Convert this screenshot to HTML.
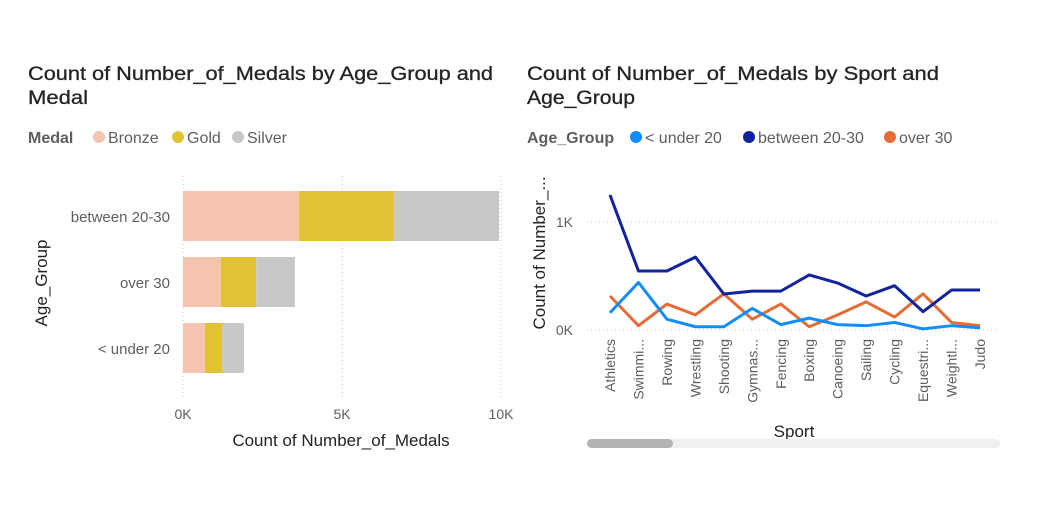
<!DOCTYPE html>
<html><head><meta charset="utf-8"><style>
body{margin:0;background:#fff;width:1053px;height:511px;overflow:hidden;font-family:"Liberation Sans",sans-serif}
</style></head><body>
<svg id="s" width="1053" height="511" font-family="Liberation Sans, sans-serif">
<g fill="#252423" font-size="19" stroke="#252423" stroke-width="0.3">
<text x="28" y="80" textLength="465" lengthAdjust="spacingAndGlyphs">Count of Number_of_Medals by Age_Group and</text>
<text x="28" y="104" textLength="60" lengthAdjust="spacingAndGlyphs">Medal</text></g>
<g font-size="16" fill="#605e5c">
<text x="28" y="143" font-weight="bold">Medal</text>
<circle cx="99" cy="137" r="6" fill="#f4c4ae"/><text x="108" y="143">Bronze</text>
<circle cx="178" cy="137" r="6" fill="#e1c233"/><text x="187" y="143">Gold</text>
<circle cx="238" cy="137" r="6" fill="#c8c8c8"/><text x="247" y="143">Silver</text></g>
<g fill="#252423" font-size="19" stroke="#252423" stroke-width="0.3">
<text x="527" y="80" textLength="412" lengthAdjust="spacingAndGlyphs">Count of Number_of_Medals by Sport and</text>
<text x="527" y="104" textLength="108" lengthAdjust="spacingAndGlyphs">Age_Group</text></g>
<g font-size="16" fill="#605e5c">
<text x="527" y="143" font-weight="bold">Age_Group</text>
<circle cx="636" cy="137" r="6" fill="#118dff"/><text x="645" y="143">&lt; under 20</text>
<circle cx="749" cy="137" r="6" fill="#12239e"/><text x="758" y="143">between 20-30</text>
<circle cx="890" cy="137" r="6" fill="#e66c37"/><text x="899" y="143">over 30</text></g>
<g id="bars"></g>
<g id="lines"></g>
<text x="341" y="446" font-size="17" fill="#252423" text-anchor="middle">Count of Number_of_Medals</text>
<text transform="translate(47,283) rotate(-90)" font-size="17" fill="#252423" text-anchor="middle">Age_Group</text>
<text transform="translate(545,253) rotate(-90)" font-size="17" fill="#252423" text-anchor="middle">Count of Number_...</text>
<text x="794" y="437" font-size="17" fill="#252423" text-anchor="middle">Sport</text>
<rect x="587" y="439" width="413" height="9" rx="4.5" fill="#f0f0f0"/>
<rect x="587" y="439" width="86" height="9" rx="4.5" fill="#b3b3b3"/>
</svg>
<script>
const groups=["between 20-30","over 30","< under 20"];
const bronze=[3650,1190,690];
const gold=[2990,1110,540];
const silver=[3300,1220,690];
const xTicks=[0,5000,10000];
const xTickLabels=["0K","5K","10K"];
const sports=["Athletics","Swimmi...","Rowing","Wrestling","Shooting","Gymnas...","Fencing","Boxing","Canoeing","Sailing","Cycling","Equestri...","Weightl...","Judo"];
const under20=[160,440,100,30,30,200,50,110,50,40,70,10,40,20];
const between2030=[1250,546,546,675,333,360,360,510,435,315,410,170,370,370];
const over30=[315,40,240,140,335,100,240,30,140,260,120,335,70,40];
const yTicks=[0,1000];
const yTickLabels=["0K","1K"];
const NS="http://www.w3.org/2000/svg";
function mk(p,t,a){const e=document.createElementNS(NS,t);for(const k in a)e.setAttribute(k,a[k]);p.appendChild(e);return e;}
const bx=v=>183+v*0.0318;
const bg=document.getElementById('bars');
xTicks.forEach((t,i)=>{
 const l=mk(bg,'line',{x1:bx(t),x2:bx(t),y1:176,y2:398,stroke:'#c8c8c8','stroke-dasharray':'1 3'});
 
 
 const tx=mk(bg,'text',{x:bx(t),y:419,'font-size':14,fill:'#605e5c','text-anchor':'middle'});
 tx.textContent=xTickLabels[i];
 
 
});
const rowY=[191,257,323];
groups.forEach((g,i)=>{
 const y=rowY[i];let s=0;
 [[bronze,'#f4c4ae'],[gold,'#e1c233'],[silver,'#c8c8c8']].forEach(([arr,c])=>{
  const r=mk(bg,'rect',{x:bx(s),y:y,width:bx(s+arr[i])-bx(s),height:50,fill:c});
  
  
  s+=arr[i];
 });
 const t=mk(bg,'text',{x:170,y:y+31,'font-size':15,fill:'#605e5c','text-anchor':'end'});
 t.textContent=g;
 
 
});
const lg=document.getElementById('lines');
const lx=i=>610+i*28.46;
const ly=v=>330-v*0.108;
yTicks.forEach((t,i)=>{
 const l=mk(lg,'line',{x1:587,x2:997,y1:ly(t),y2:ly(t),stroke:'#c8c8c8','stroke-dasharray':'1 3'});
 
 
 const tx=mk(lg,'text',{x:573,y:ly(t)+5,'font-size':14,fill:'#605e5c','text-anchor':'end'});
 tx.textContent=yTickLabels[i];
 
 
});
sports.forEach((s,i)=>{
 const t=mk(lg,'text',{transform:`translate(${lx(i)+5},339) rotate(-90)`,'font-size':14,fill:'#605e5c','text-anchor':'end'});
 t.textContent=s;
 
 
});
[[over30,'#e66c37','series-over-30'],[under20,'#118dff','series-under-20'],[between2030,'#12239e','series-between-20-30']].forEach(([arr,c,n])=>{
 const p=mk(lg,'polyline',{points:arr.map((v,i)=>lx(i)+','+ly(v)).join(' '),fill:'none',stroke:c,'stroke-width':3,'stroke-linejoin':'round'});
 
 
});
</script>
</body></html>
